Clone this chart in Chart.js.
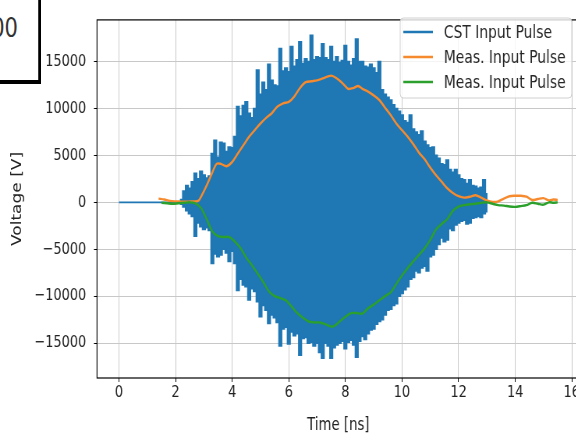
<!DOCTYPE html>
<html><head><meta charset="utf-8">
<script src="https://cdn.jsdelivr.net/npm/chart.js@4"></script>
<style>
html,body{margin:0;padding:0;width:576px;height:434px;overflow:hidden;background:#fff;}
#wrap{position:absolute;left:0;top:0;width:750px;height:434px;transform:scaleX(0.78);transform-origin:0 0;}
#box{position:absolute;left:-100px;top:-20px;width:152.6px;height:104px;box-sizing:border-box;border:4px solid #000;background:#fff;z-index:2;overflow:hidden;}
#box span{position:absolute;right:25.6px;top:30px;font:27px/1 "DejaVu Sans",sans-serif;color:#333;}
</style></head><body>
<div id="wrap"><canvas id="c"></canvas><div id="box"><span>100</span></div></div>
<script>
// ---- data ----
const xTickValues = [0, 2, 4, 6, 8, 10, 12, 14, 16];
const yTickValues = [-15000, -10000, -5000, 0, 5000, 10000, 15000];

const seriesLabels = ['CST Input Pulse', 'Meas. Input Pulse', 'Meas. Input Pulse'];

// CST pulse: quiet lead-in, then the oscillation's upper / lower extremes
const blueLeadTimes = [0, 2.15];
const blueLeadValues = [0, 0];
const blueTimes = [2.2,2.3,2.4,2.5,2.6,2.7,2.8,2.9,3.0,3.1,
  3.2,3.3,3.4,3.5,3.6,3.7,3.8,3.9,4.0,4.1,
  4.2,4.3,4.4,4.5,4.6,4.7,4.8,4.9,5.0,5.1,
  5.2,5.3,5.4,5.5,5.6,5.7,5.8,5.9,6.0,6.1,
  6.2,6.3,6.4,6.5,6.6,6.7,6.8,6.9,7.0,7.1,
  7.2,7.3,7.4,7.5,7.6,7.7,7.8,7.9,8.0,8.1,
  8.2,8.3,8.4,8.5,8.6,8.7,8.8,8.9,9.0,9.1,
  9.2,9.3,9.4,9.5,9.6,9.7,9.8,9.9,10.0,10.1,
  10.2,10.3,10.4,10.5,10.6,10.7,10.8,10.9,11.0,11.1,
  11.2,11.3,11.4,11.5,11.6,11.7,11.8,11.9,12.0,12.1,
  12.2,12.3,12.4,12.5,12.6,12.7,12.8,12.9,13.0];
const blueUpper = [300,1200,1800,1500,2200,3100,2500,3300,2900,2600,
  2800,5200,6600,4800,6400,6300,5400,5900,5800,7000,
  10200,9200,10300,10700,9500,9000,10000,14100,11500,12800,
  12000,14700,13000,12500,12400,16400,14000,14300,13900,16600,
  14500,15200,17100,14800,15300,15000,17800,15200,15500,15400,
  16900,15400,15200,16600,15000,15500,14900,15100,16700,15000,
  14600,15300,17400,15000,15000,14500,14400,14700,14300,13800,
  15000,12000,11500,11200,10900,10400,10000,9700,9300,8700,
  8500,9300,7800,7500,7200,7600,6500,6100,5800,5900,
  5000,4700,4100,4000,4500,3500,3200,3500,2900,2500,
  2400,2000,2400,1800,1700,1500,1600,2400,900];
const blueLower = [-200,-500,-900,-1200,-1500,-3600,-2200,-2600,-2900,-2700,
  -3000,-6500,-5500,-5800,-5600,-5000,-5400,-6300,-5200,-6500,
  -9400,-8200,-8800,-9000,-10400,-9200,-9500,-10600,-12200,-11000,
  -11500,-12900,-12000,-12300,-12800,-15300,-13500,-13300,-15100,-13800,
  -14200,-14000,-16300,-14500,-14400,-15000,-14900,-15300,-15000,-16000,
  -16600,-15000,-15300,-16600,-15500,-15200,-15000,-14800,-15600,-14900,
  -14700,-15200,-16500,-14800,-14300,-14600,-14000,-13600,-13500,-13000,
  -12700,-12500,-12000,-11500,-11400,-11000,-10800,-10000,-9700,-9300,
  -9000,-8200,-8000,-7300,-7500,-7000,-6800,-7300,-5800,-5600,
  -5000,-4500,-3800,-4200,-4000,-2800,-3000,-2400,-2200,-2000,
  -1900,-2300,-2200,-1700,-1600,-1500,-1600,-1200,-1000];

const orangeTimes = [1.4,1.6,1.8,2.0,2.2,2.4,2.6,2.8,2.9,3.1,3.3,3.45,3.6,3.8,4.0,4.2,4.4,4.6,4.8,5.0,
  5.2,5.4,5.6,5.8,6.0,6.2,6.4,6.6,6.8,7.0,7.2,7.5,7.7,7.9,8.1,8.3,8.45,8.6,8.8,9.0,
  9.2,9.4,9.6,9.8,10.0,10.2,10.4,10.6,10.8,11.0,11.2,11.4,11.6,11.8,12.0,12.2,12.4,12.6,12.8,13.0,
  13.2,13.4,13.6,13.8,14.0,14.2,14.4,14.6,14.8,15.0,15.2,15.35,15.5];
const orangeValues = [400,300,150,100,80,60,100,150,600,1800,3200,4100,4100,3850,4300,5200,6100,7000,7700,8400,
  9000,9500,10200,10550,10700,11300,12200,12800,12900,13000,13200,13500,13200,12700,12100,12200,12400,12100,11800,11400,
  10900,10100,9300,8400,7700,7000,6200,5300,4600,3700,2900,2200,1500,1000,650,500,600,750,500,200,
  50,100,400,650,700,700,600,250,350,450,200,300,250];

const greenTimes = [1.5,1.7,1.9,2.1,2.3,2.5,2.7,2.9,3.1,3.3,3.5,3.7,3.9,4.1,4.3,4.5,4.7,4.9,5.1,5.3,
  5.5,5.7,5.9,6.1,6.3,6.5,6.7,6.9,7.1,7.3,7.55,7.8,8.0,8.2,8.4,8.6,8.8,9.0,9.2,9.4,
  9.6,9.8,10.0,10.2,10.4,10.6,10.8,11.0,11.2,11.4,11.6,11.8,12.0,12.2,12.4,12.6,12.8,13.0,
  13.2,13.4,13.6,13.8,14.0,14.2,14.4,14.6,14.8,15.0,15.2,15.35,15.5];
const greenValues = [-50,-100,-150,-100,-50,0,-100,-600,-1800,-3100,-3600,-3700,-3700,-4200,-4900,-5900,-6700,-7600,-8500,-9500,
  -10000,-10200,-10450,-11100,-11800,-12300,-12700,-12800,-12800,-13000,-13250,-12700,-12200,-11800,-11800,-11850,-11300,-10900,-10450,-10000,
  -9600,-8700,-7800,-7000,-6300,-5600,-4900,-4000,-2900,-2300,-1800,-900,-450,-300,-200,-150,-50,0,
  -150,-300,-350,-450,-480,-400,-300,-50,-150,-250,0,-50,0];

// ---- build library tables ----
// outline of the CST trace: lead-in, upper extremes forward, lower extremes back
const lead = blueLeadTimes.map((t, i) => ({x: t, y: blueLeadValues[i]}));
const upperPts = blueTimes.map((t, i) => ({x: t, y: blueUpper[i]}));
const lowerPts = blueTimes.map((t, i) => ({x: t, y: blueLower[i]})).reverse();
const blueOutline = lead.concat(upperPts, lowerPts, lead.slice().reverse());
const orangePoints = orangeTimes.map((t, i) => ({x: t, y: orangeValues[i]}));
const greenPoints = greenTimes.map((t, i) => ({x: t, y: greenValues[i]}));

const FONT = '"DejaVu Sans", sans-serif';
const colors = ['#1f77b4', '#f58a2e', '#2ca02c'];

const framePlugin = {
  id: 'frameAndLegend',
  afterDatasetsDraw(chart) {
    const {ctx, chartArea: a} = chart;
    ctx.save();
    ctx.strokeStyle = '#000';
    ctx.lineWidth = 1.2;
    ctx.strokeRect(a.left, a.top, a.right - a.left, a.bottom - a.top);
    ctx.restore();
  },
  afterDraw(chart) {
    const ctx = chart.ctx;
    const bx = 513, by = 18, bw = 220, bh = 80, r = 4;
    ctx.save();
    ctx.beginPath();
    ctx.moveTo(bx + r, by);
    ctx.arcTo(bx + bw, by, bx + bw, by + bh, r);
    ctx.arcTo(bx + bw, by + bh, bx, by + bh, r);
    ctx.arcTo(bx, by + bh, bx, by, r);
    ctx.arcTo(bx, by, bx + bw, by, r);
    ctx.closePath();
    ctx.fillStyle = 'rgba(255,255,255,0.8)';
    ctx.fill();
    ctx.strokeStyle = '#d0d0d0';
    ctx.lineWidth = 1;
    ctx.stroke();
    const rows = [32, 57, 82];
    chart.data.datasets.forEach((ds, i) => {
      const y = rows[i];
      ctx.beginPath();
      ctx.moveTo(517, y);
      ctx.lineTo(555, y);
      ctx.strokeStyle = ds.borderColor;
      ctx.lineWidth = 2.4;
      ctx.stroke();
      ctx.fillStyle = '#262626';
      ctx.font = '17.8px ' + FONT;
      ctx.textAlign = 'left';
      ctx.textBaseline = 'middle';
      ctx.fillText(ds.label, 569, y + 1);
    });
    ctx.restore();
  }
};

new Chart(document.getElementById('c'), {
  type: 'line',
  data: {
    datasets: [
      {label: seriesLabels[0], data: blueOutline, borderColor: colors[0], backgroundColor: colors[0],
        borderWidth: 1.6, pointRadius: 0, stepped: 'middle', fill: 'shape', order: 3},
      {label: seriesLabels[1], data: orangePoints, borderColor: colors[1], borderWidth: 2.4, pointRadius: 0, tension: 0.3, fill: false, order: 2},
      {label: seriesLabels[2], data: greenPoints, borderColor: colors[2], borderWidth: 2.4, pointRadius: 0, tension: 0.3, fill: false, order: 1}
    ]
  },
  options: {
    responsive: true,
    maintainAspectRatio: false,
    animation: false,
    events: [],
    layout: {padding: {left: 0, right: 7, top: 9, bottom: 0}},
    plugins: {legend: {display: false}, tooltip: {enabled: false}},
    scales: {
      x: {
        type: 'linear',
        min: -0.775,
        max: 16.275,
        afterBuildTicks: s => { s.ticks = xTickValues.map(v => ({value: v})); },
        afterFit: s => { s.height = 56; },
        grid: {color: '#c8c8c8', lineWidth: 1, tickColor: '#000', tickLength: 4},
        border: {display: false},
        ticks: {color: '#222', font: {family: FONT, size: 16.5}, padding: 1, maxRotation: 0, autoSkip: false},
        title: {display: true, text: 'Time [ns]', color: '#222', font: {family: FONT, size: 17}, padding: {top: 0, bottom: -2}}
      },
      y: {
        type: 'linear',
        min: -18720,
        max: 19440,
        afterBuildTicks: s => { s.ticks = yTickValues.map(v => ({value: v})); },
        afterFit: s => { s.width = 124.4; },
        grid: {color: '#c8c8c8', lineWidth: 1, tickColor: '#000', tickLength: 4},
        border: {display: false},
        ticks: {color: '#222', font: {family: FONT, size: 16.5}, padding: 10, autoSkip: false,
          callback: v => (v < 0 ? '\u2212' + Math.abs(v) : String(v))},
        title: {display: true, text: 'Voltage [V]', color: '#222', font: {family: FONT, size: 17}, padding: {top: 12, bottom: 0}}
      }
    }
  },
  plugins: [framePlugin]
});
</script></body></html>
